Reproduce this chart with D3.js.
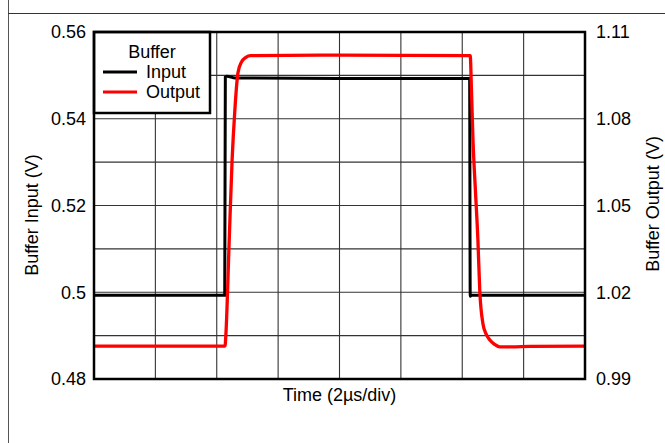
<!DOCTYPE html>
<html>
<head>
<meta charset="utf-8">
<script src="https://cdn.jsdelivr.net/npm/d3@7"></script>
<style>
  body { margin: 0; background: #fff; }
  text { font-family: "Liberation Sans", Arial, sans-serif; fill: #000; }
</style>
</head>
<body>
<div id="chart"></div>
<script>
/*
    Chart data: time in µs (2 µs per division), volts
*/
var timeTicks = [0, 2, 4, 6, 8, 10, 12, 14, 16];
var leftTicks = [0.48, 0.50, 0.52, 0.54, 0.56];
var rightTicks = [0.99, 1.02, 1.05, 1.08, 1.11];

var inputTime = [0, 4.26, 4.28, 4.33, 4.6, 8, 12.24, 12.26, 12.3, 16];
var inputVolt = [0.4993, 0.4993, 0.5496, 0.5498, 0.5494, 0.5493, 0.5493, 0.4991, 0.4993, 0.4993];

var outputTime = [0, 4.27, 4.30, 4.40, 4.50, 4.59, 4.69, 4.80, 4.95, 5.1, 8, 12.26, 12.30, 12.35, 12.43, 12.51,
    12.57, 12.67, 12.78, 12.90, 13.05, 13.22, 13.6, 14.2, 16];
var outputVolt = [1.0014, 1.0014, 1.0059, 1.036, 1.0657, 1.0830, 1.0958, 1.0995, 1.1012, 1.1018, 1.1020, 1.1018,
    1.0900, 1.0726, 1.055, 1.0381, 1.0208, 1.0094, 1.0055, 1.0035, 1.0020, 1.0011, 1.0011, 1.0013, 1.0014];

var width = 665;
var height = 443;
var margin = { top: 32, right: 80, bottom: 64, left: 94 };
var plotW = 585 - margin.left;
var plotH = 379 - margin.top;
var fontSize = "18px";

var svg = d3.select("#chart")
    .append("svg")
    .attr("width", width)
    .attr("height", height);

// outer frame pieces
svg.append("line").attr("x1", 8.5).attr("x2", 8.5).attr("y1", 0).attr("y2", height)
    .attr("stroke", "#555").attr("stroke-width", 1);
svg.append("line").attr("x1", 8).attr("x2", width).attr("y1", 13.5).attr("y2", 13.5)
    .attr("stroke", "#333").attr("stroke-width", 1);

var x = d3.scaleLinear().domain([0, 16]).range([0, plotW]);
var yLeft = d3.scaleLinear().domain([0.48, 0.56]).range([plotH, 0]);
var yRight = d3.scaleLinear().domain([0.99, 1.11]).range([plotH, 0]);

var g = svg.append("g").attr("transform", "translate(" + margin.left + "," + margin.top + ")");

// grid
var gridY = d3.range(0, 9).map(function (i) { return 0.48 + i * 0.01; });
g.selectAll(".vgrid").data(timeTicks).enter().append("line")
    .attr("x1", function (d) { return x(d); })
    .attr("x2", function (d) { return x(d); })
    .attr("y1", 0).attr("y2", plotH)
    .attr("stroke", "#333").attr("stroke-width", 1.1);
g.selectAll(".hgrid").data(gridY).enter().append("line")
    .attr("y1", function (d) { return yLeft(d); })
    .attr("y2", function (d) { return yLeft(d); })
    .attr("x1", 0).attr("x2", plotW)
    .attr("stroke", "#333").attr("stroke-width", 1.1);

// traces
var inputLine = d3.line()
    .x(function (d) { return x(d[0]); })
    .y(function (d) { return yLeft(d[1]); })
    .curve(d3.curveMonotoneX);
var outputLine = d3.line()
    .x(function (d) { return x(d[0]); })
    .y(function (d) { return yRight(d[1]); })
    .curve(d3.curveMonotoneX);

g.append("path")
    .datum(d3.zip(inputTime, inputVolt))
    .attr("d", inputLine)
    .attr("fill", "none").attr("stroke", "#000").attr("stroke-width", 3);
g.append("path")
    .datum(d3.zip(outputTime, outputVolt))
    .attr("d", outputLine)
    .attr("fill", "none").attr("stroke", "#ff0000").attr("stroke-width", 3.3);

// legend
var leg = g.append("g");
leg.append("rect").attr("x", 0).attr("y", 0).attr("width", 116).attr("height", 81)
    .attr("fill", "#fff").attr("stroke", "#000").attr("stroke-width", 2.5);
leg.append("text").attr("x", 58).attr("y", 26).attr("text-anchor", "middle")
    .style("font-size", fontSize).text("Buffer");
var legItems = [["Input", "#000"], ["Output", "#ff0000"]];
leg.selectAll(".item").data(legItems).enter().append("line")
    .attr("x1", 9).attr("x2", 43)
    .attr("y1", function (d, i) { return 40 + i * 20; })
    .attr("y2", function (d, i) { return 40 + i * 20; })
    .attr("stroke", function (d) { return d[1]; })
    .attr("stroke-width", 3);
leg.selectAll(".itemtext").data(legItems).enter().append("text")
    .attr("x", 52)
    .attr("y", function (d, i) { return 46 + i * 20; })
    .style("font-size", fontSize)
    .text(function (d) { return d[0]; });

// frame
g.append("rect").attr("x", 0).attr("y", 0).attr("width", plotW).attr("height", plotH)
    .attr("fill", "none").attr("stroke", "#000").attr("stroke-width", 2.5);

// axes labels
var la = g.append("g")
    .call(d3.axisLeft(yLeft).tickValues(leftTicks).tickSize(0).tickPadding(8)
        .tickFormat(function (d) { return String(+d.toFixed(2)); }));
la.select(".domain").remove();
la.selectAll("text").style("font-size", fontSize).attr("fill", "#000")
    .style("font-family", "'Liberation Sans', Arial, sans-serif");

var ra = g.append("g").attr("transform", "translate(" + plotW + ",0)")
    .call(d3.axisRight(yRight).tickValues(rightTicks).tickSize(0).tickPadding(11)
        .tickFormat(d3.format(".2f")));
ra.select(".domain").remove();
ra.selectAll("text").style("font-size", fontSize).attr("fill", "#000")
    .style("font-family", "'Liberation Sans', Arial, sans-serif");

svg.append("text")
    .attr("x", margin.left + plotW / 2).attr("y", 401)
    .attr("text-anchor", "middle").style("font-size", fontSize)
    .text("Time (2\u00b5s/div)");

svg.append("text")
    .attr("transform", "translate(32,215) rotate(-90)")
    .attr("dy", "0.35em").attr("text-anchor", "middle").style("font-size", fontSize)
    .text("Buffer Input (V)");

svg.append("text")
    .attr("transform", "translate(653,204) rotate(-90)")
    .attr("dy", "0.35em").attr("text-anchor", "middle").style("font-size", fontSize)
    .text("Buffer Output (V)");
</script>
</body>
</html>
